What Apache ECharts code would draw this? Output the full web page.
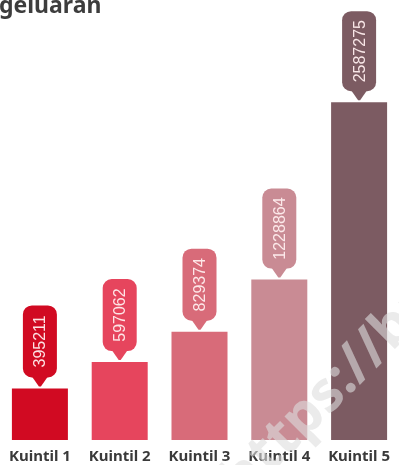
<!DOCTYPE html>
<html>
<head>
<meta charset="utf-8">
<script src="https://cdn.jsdelivr.net/npm/echarts@6/dist/echarts.min.js"></script>
<style>
html,body{margin:0;padding:0;background:#fff;}
#c{width:399px;height:465px;}
</style>
</head>
<body>
<div id="c"></div>
<script>
const categories = ['Kuintil 1', 'Kuintil 2', 'Kuintil 3', 'Kuintil 4', 'Kuintil 5'];
const values = [395211, 597062, 829374, 1228864, 2587275];
const colors = ['#d10a22', '#e6455d', '#d86b79', '#c98b94', '#7c5b62'];
const titleText = 'geluaran';
const watermark = 'https://bps.go.id';

const chart = echarts.init(document.getElementById('c'), null, {renderer: 'canvas'});

function renderCallout(params, api) {
  const idx = api.value(0);
  const v = api.value(1);
  const p = api.coord([idx, v]);
  const txt = String(values[idx]);
  const w = 34;
  const h = 24 + 8 * txt.length;
  const tip = p[1] - 2;
  const boxBottom = tip - 9;
  const boxTop = boxBottom - h;
  const col = colors[idx];
  return {
    type: 'group',
    children: [
      {
        type: 'rect',
        shape: {x: p[0] - w / 2, y: boxTop, width: w, height: h, r: 9},
        style: {fill: col}
      },
      {
        type: 'polygon',
        shape: {points: [[p[0] - 8, boxBottom - 1], [p[0] + 8, boxBottom - 1], [p[0] + 1, tip], [p[0] - 1, tip]]},
        style: {fill: col}
      },
      {
        type: 'text',
        x: p[0] + 1,
        y: boxTop + h / 2,
        rotation: Math.PI / 2,
        style: {
          text: txt,
          fill: 'rgba(255,238,238,0.95)',
          font: '16px "Liberation Sans", Arial, sans-serif',
          align: 'center',
          verticalAlign: 'middle'
        }
      }
    ]
  };
}

chart.setOption({
  animation: false,
  backgroundColor: '#ffffff',
  grid: {left: -2, right: 0, top: 0, height: 440, containLabel: false},
  xAxis: {
    type: 'category',
    data: categories,
    axisLine: {show: false},
    axisTick: {show: false},
    axisLabel: {
      interval: 0,
      margin: 9,
      color: '#3a3a3a',
      fontSize: 15,
      fontWeight: 'bold',
      fontFamily: '"Noto Sans", sans-serif'
    }
  },
  yAxis: {
    type: 'value',
    min: 0,
    max: 3370000,
    show: false,
    splitLine: {show: false}
  },
  series: [
    {
      type: 'bar',
      data: values,
      barWidth: 56,
      itemStyle: {color: (p) => colors[p.dataIndex]},
      z: 2
    },
    {
      type: 'custom',
      data: values.map((v, i) => [i, v]),
      renderItem: renderCallout,
      z: 3
    }
  ],
  graphic: [
    {
      type: 'text',
      x: -1,
      y: -5,
      style: {
        text: titleText,
        fill: '#3d3d3d',
        font: 'bold 23px "Noto Sans", sans-serif',
        align: 'left',
        verticalAlign: 'top'
      }
    },
    {
      type: 'text',
      x: 212,
      y: 470,
      rotation: Math.PI / 4,
      z: 10,
      style: {
        text: watermark,
        fill: 'rgba(222,222,222,0.6)',
        font: 'bold 56px "Noto Sans", sans-serif',
        align: 'left',
        verticalAlign: 'alphabetic'
      }
    }
  ]
});
</script>
</body>
</html>
